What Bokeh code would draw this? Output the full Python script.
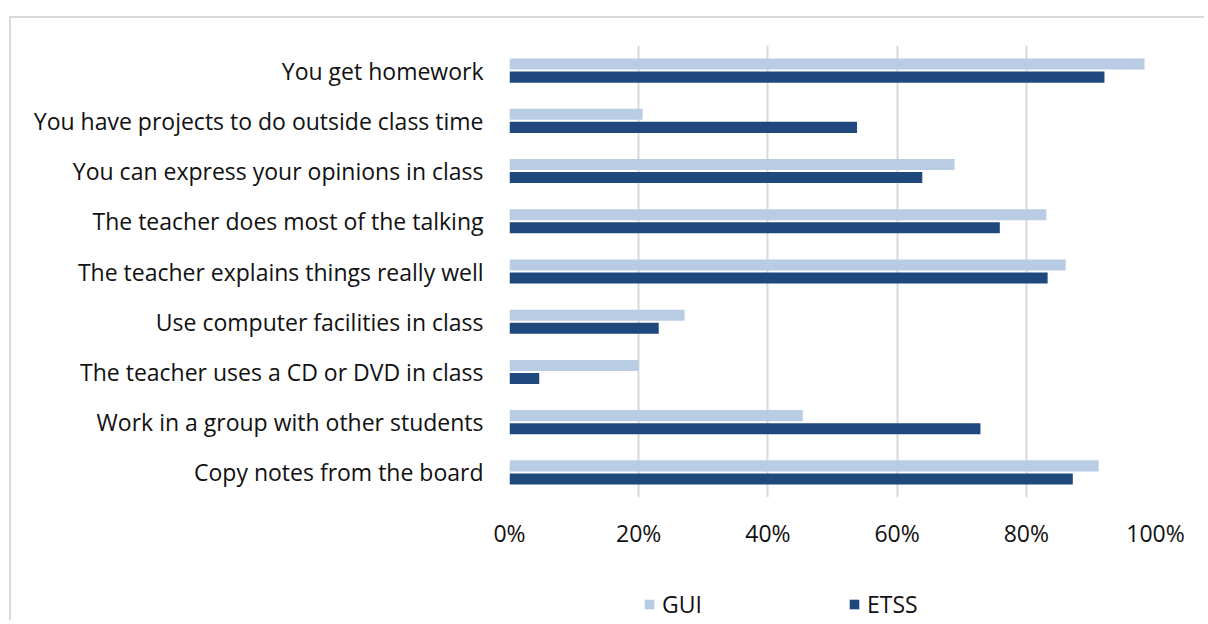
from bokeh.plotting import figure
from bokeh.layouts import column
from bokeh.models import FactorRange, Range1d, Legend, LegendItem, NumeralTickFormatter, FixedTicker, ColumnDataSource
from bokeh.transform import dodge
from bokeh.embed import file_html
from bokeh.resources import INLINE

categories = [
    "You get homework",
    "You have projects to do outside class time",
    "You can express your opinions in class",
    "The teacher does most of the talking",
    "The teacher explains things really well",
    "Use computer facilities in class",
    "The teacher uses a CD or DVD in class",
    "Work in a group with other students",
    "Copy notes from the board",
]
gui = [0.983, 0.206, 0.689, 0.831, 0.861, 0.271, 0.200, 0.454, 0.912]
etss = [0.921, 0.538, 0.639, 0.759, 0.833, 0.231, 0.046, 0.729, 0.872]
ticks = [0, 0.2, 0.4, 0.6, 0.8, 1.0]
series = ["GUI", "ETSS"]

FONT = "Open Sans"
FS = "23px"
TXT = "#111111"
C_GUI = "#B8CCE4"
C_ETSS = "#1F497D"
BORDER = "2px solid #d9d9d9"

src = ColumnDataSource(dict(cat=categories, gui=gui, etss=etss))

# ---- main chart ----
p = figure(
    width=1195, height=560,
    y_range=FactorRange(factors=list(reversed(categories)), range_padding=0),
    x_range=Range1d(0, 1),
    output_backend="svg", toolbar_location=None,
    min_border_left=498, min_border_top=27, min_border_right=51, min_border_bottom=81,
)
p.margin = (16, 0, 0, 9)
p.styles = {"border-top": BORDER, "border-left": BORDER}
p.outline_line_color = None

r1 = p.hbar(y=dodge("cat", 0.13, range=p.y_range), left=0, right="gui", height=0.22,
            source=src, fill_color=C_GUI, line_color=None)
r2 = p.hbar(y=dodge("cat", -0.13, range=p.y_range), left=0, right="etss", height=0.22,
            source=src, fill_color=C_ETSS, line_color=None)

p.xaxis.ticker = FixedTicker(ticks=ticks)
p.xaxis.formatter = NumeralTickFormatter(format="0%")
p.xaxis.axis_line_color = None
p.xaxis.major_tick_line_color = None
p.xaxis.minor_tick_line_color = None
p.xaxis.major_tick_out = 0
p.xaxis.major_label_standoff = 19
p.xaxis.major_label_text_font = FONT
p.xaxis.major_label_text_font_size = FS
p.xaxis.major_label_text_color = TXT

p.yaxis.axis_line_color = None
p.yaxis.major_tick_line_color = None
p.yaxis.minor_tick_line_color = None
p.yaxis.major_tick_out = 0
p.yaxis.major_label_standoff = 26
p.yaxis.major_label_text_font = FONT
p.yaxis.major_label_text_font_size = FS
p.yaxis.major_label_text_color = TXT

p.ygrid.grid_line_color = None
p.xgrid.grid_line_color = "#d9d9d9"
p.xgrid.grid_line_width = 2

# ---- legend strip ----
q = figure(
    width=1195, height=44,
    x_range=Range1d(0, 1), y_range=Range1d(0, 1),
    output_backend="svg", toolbar_location=None,
    min_border_left=498, min_border_top=12, min_border_right=51, min_border_bottom=0,
)
q.margin = (0, 0, 0, 9)
q.styles = {"border-left": BORDER}
q.outline_line_color = None
q.axis.visible = False
q.grid.visible = False

k1 = q.hbar(y=[0.5], left=[0], right=[0], height=0.0, fill_color=C_GUI, line_color=None)
k2 = q.hbar(y=[0.5], left=[0], right=[0], height=0.0, fill_color=C_ETSS, line_color=None)

legend = Legend(
    items=[LegendItem(label=series[0], renderers=[k1]), LegendItem(label=series[1], renderers=[k2])],
    orientation="horizontal", location="top_center",
    glyph_width=12, glyph_height=12, label_standoff=7, label_width=154, spacing=32,
    padding=0, margin=0, border_line_color=None, background_fill_alpha=0,
    label_text_font=FONT, label_text_font_size=FS, label_text_color=TXT,
)
q.add_layout(legend, "center")

layout = column(p, q, spacing=0)
open("out.html", "w").write(file_html(layout, INLINE))
